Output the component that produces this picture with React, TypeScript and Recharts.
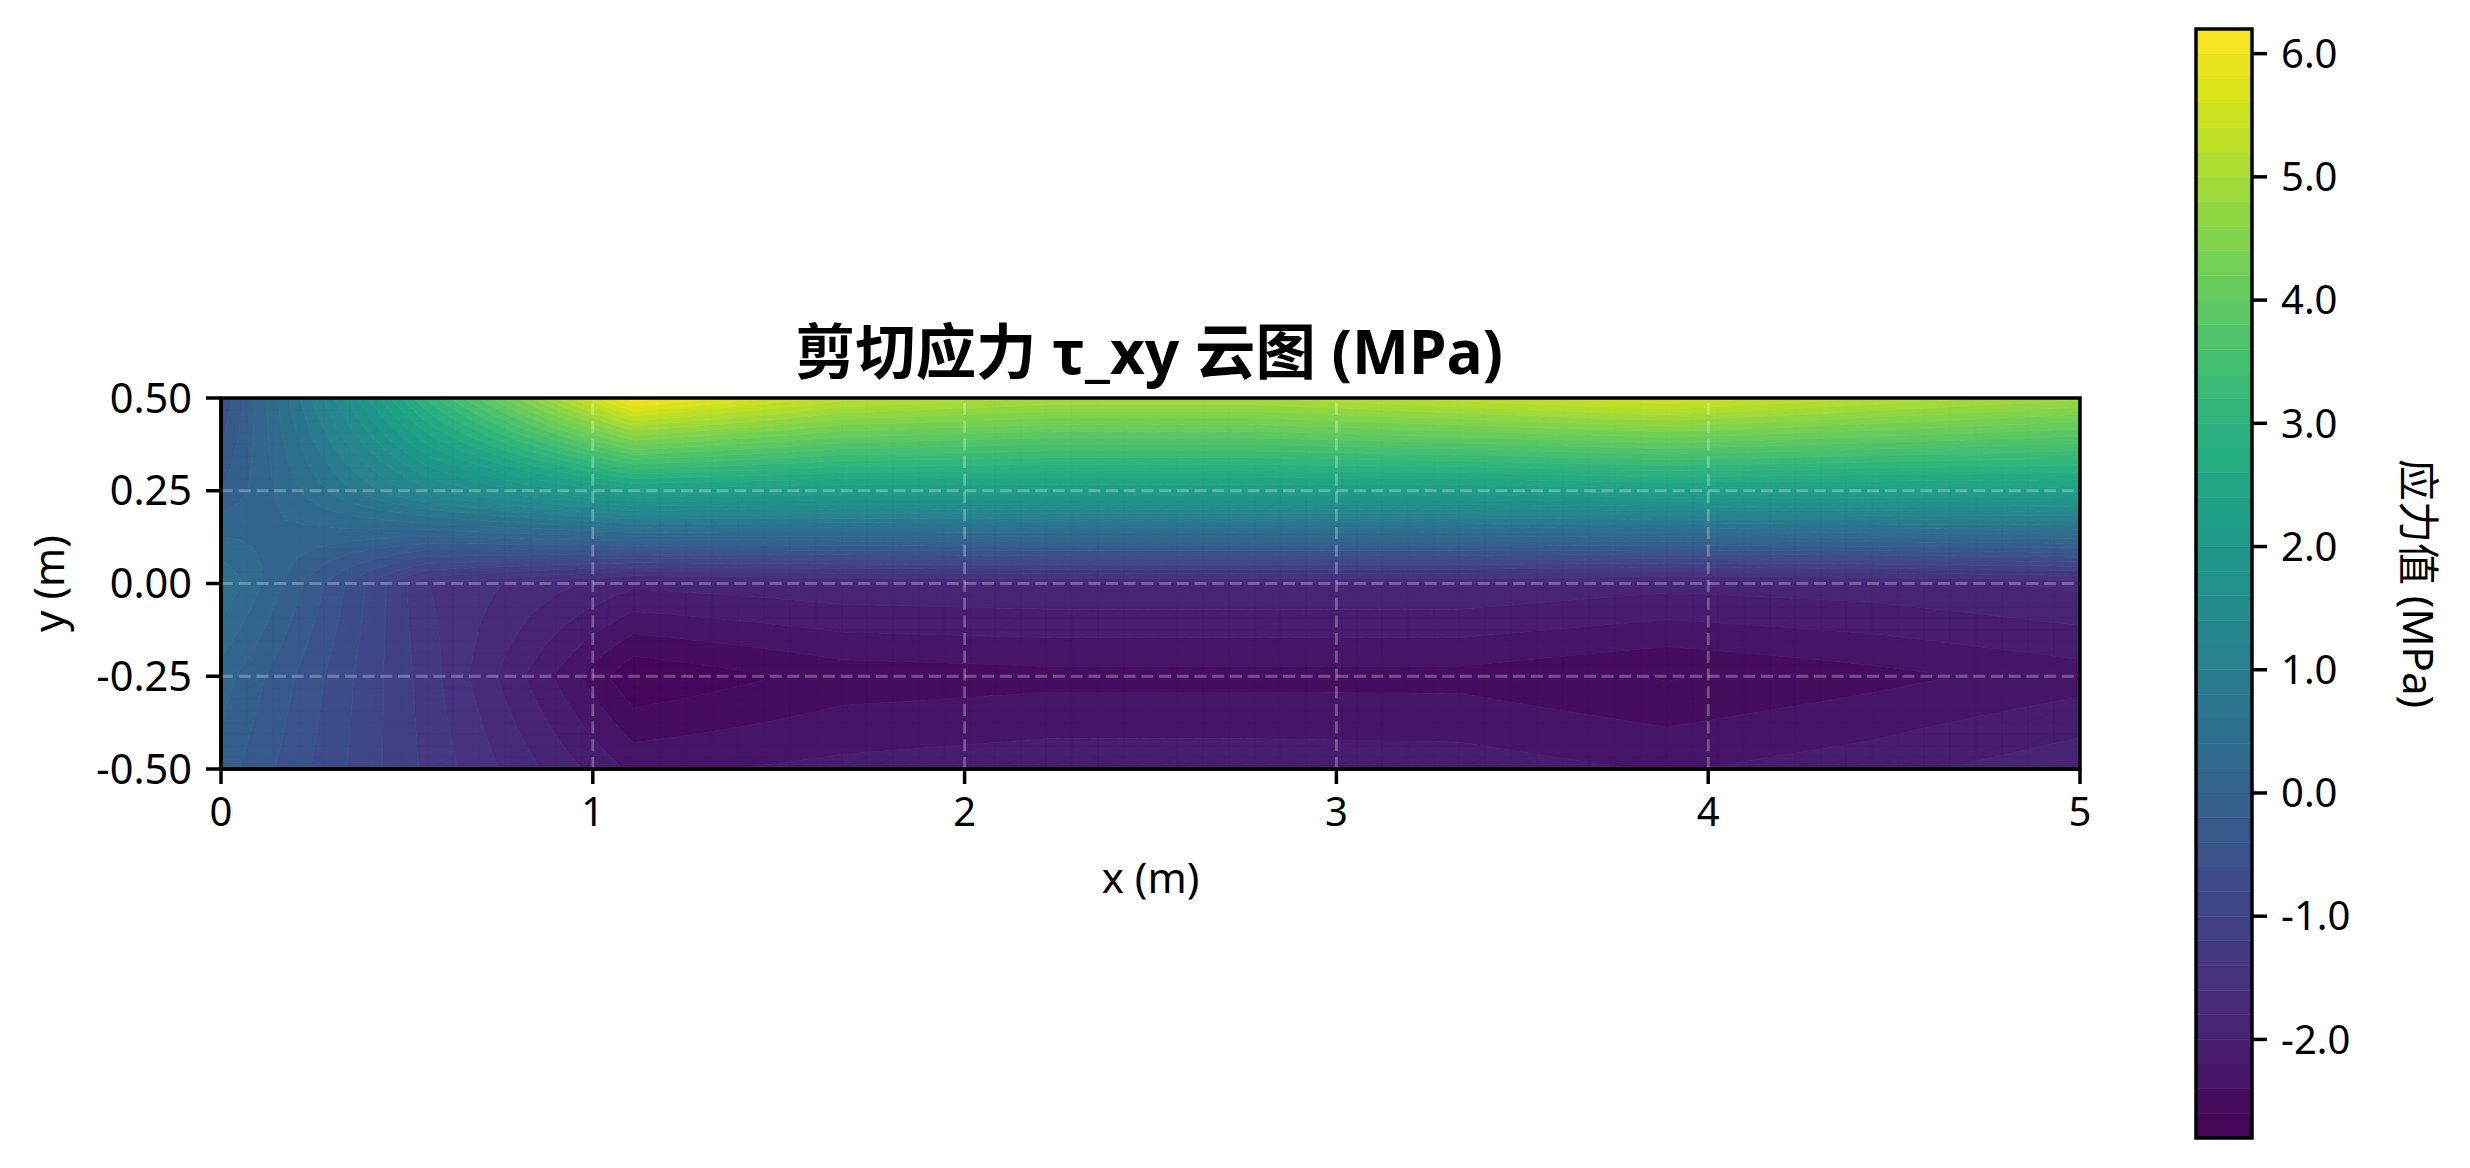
import React from 'react';
import * as Recharts from 'recharts';
import { ComposedChart, XAxis, YAxis, ReferenceLine, ReferenceArea, Scatter } from 'recharts';

const xNodes = [0, 0.556, 1.11, 1.67, 2.22, 2.78, 3.33, 3.89, 4.44, 5];
const yNodes = [-0.5, -0.25, 0, 0.25, 0.5];

// tau_xy at each node, one row per y node, from the bottom up
const rowM050 = [-0.1, -1.25, -2.25, -2.14, -2.07, -2.07, -2.09, -2.22, -2.08, -1.85];
const rowM025 = [0.1, -1.3, -2.78, -2.52, -2.47, -2.47, -2.47, -2.62, -2.47, -2.3];
const rowP000 = [0.6, -1.4, -1.95, -1.85, -1.82, -1.82, -1.82, -1.93, -1.88, -1.75];
const rowP025 = [-0.2, 1.35, 2.3, 2.2, 2.2, 2.2, 2.2, 2.3, 2.3, 2.3];
const rowP050 = [-0.6, 3.05, 6.15, 5.3, 5.0, 5.0, 5.3, 5.6, 5.2, 4.85];
const rows = [rowM050, rowM025, rowP000, rowP025, rowP050];

const levels = [
  -2.8, -2.6, -2.4, -2.2, -2.0, -1.8, -1.6, -1.4, -1.2, -1.0, -0.8, -0.6, -0.4, -0.2, 0, 0.2,
  0.4, 0.6, 0.8, 1.0, 1.2, 1.4, 1.6, 1.8, 2.0, 2.2, 2.4, 2.6, 2.8, 3.0, 3.2, 3.4, 3.6, 3.8,
  4.0, 4.2, 4.4, 4.6, 4.8, 5.0, 5.2, 5.4, 5.6, 5.8, 6.0, 6.2,
];

const xTicks = [0, 1, 2, 3, 4, 5];
const yTicks = [-0.5, -0.25, 0, 0.25, 0.5];
const xGrid = [1, 2, 3, 4];
const yGrid = [-0.25, 0, 0.25];
const barTicks = [-2, -1, 0, 1, 2, 3, 4, 5, 6];

const viridis = [
  '#440154', '#471365', '#482475', '#463480', '#414487', '#3b528b', '#355f8d', '#2f6c8e', '#2a788e', '#25858e',
  '#21918c', '#1e9c89', '#22a884', '#2fb47c', '#44bf70', '#5ec962', '#7ad151', '#9bd93c', '#bddf26', '#dfe318', '#fde725',
];

const FONT = '"Noto Sans", "Noto Sans CJK SC", sans-serif';
const SUB = 8; // contour cells per mesh cell

function bandColor(i: number) {
  const t = ((i + 0.5) / (levels.length - 1)) * (viridis.length - 1);
  const k = Math.min(Math.floor(t), viridis.length - 2);
  const f = t - k;
  const a = viridis[k];
  const b = viridis[k + 1];
  const ch = (p: number) => {
    const u = parseInt(a.slice(p, p + 2), 16);
    const v = parseInt(b.slice(p, p + 2), 16);
    return Math.round(u + (v - u) * f);
  };
  return `rgb(${ch(1)},${ch(3)},${ch(5)})`;
}

type P = [number, number, number];

// keep the part of a polygon on one side of a z level
function clip(poly: P[], level: number, above: boolean) {
  const out: P[] = [];
  for (let i = 0; i < poly.length; i++) {
    const a = poly[i];
    const b = poly[(i + 1) % poly.length];
    const aIn = above ? a[2] >= level : a[2] <= level;
    const bIn = above ? b[2] >= level : b[2] <= level;
    if (aIn) out.push(a);
    if (aIn !== bIn) {
      const f = (level - a[2]) / (b[2] - a[2]);
      out.push([a[0] + (b[0] - a[0]) * f, a[1] + (b[1] - a[1]) * f, level]);
    }
  }
  return out;
}

// bilinear inside each mesh cell, split fine enough that contour lines look straight
function meshTriangles() {
  const tris: P[][] = [];
  for (let j = 0; j < yNodes.length - 1; j++) {
    for (let i = 0; i < xNodes.length - 1; i++) {
      const at = (u: number, v: number): P => {
        const s = u / SUB;
        const t = v / SUB;
        const z =
          rows[j][i] * (1 - s) * (1 - t) +
          rows[j][i + 1] * s * (1 - t) +
          rows[j + 1][i] * (1 - s) * t +
          rows[j + 1][i + 1] * s * t;
        return [xNodes[i] + (xNodes[i + 1] - xNodes[i]) * s, yNodes[j] + (yNodes[j + 1] - yNodes[j]) * t, z];
      };
      for (let v = 0; v < SUB; v++) {
        for (let u = 0; u < SUB; u++) {
          tris.push([at(u, v), at(u + 1, v), at(u + 1, v + 1)], [at(u, v), at(u + 1, v + 1), at(u, v + 1)]);
        }
      }
    }
  }
  return tris;
}

// drawn inside the chart so it goes through the chart's own axes
function ContourBands() {
  const R = Recharts as any;
  const plot = R.usePlotArea ? R.usePlotArea() : null;
  const xScale = R.useXAxisScale ? R.useXAxisScale() : null;
  const yScale = R.useYAxisScale ? R.useYAxisScale() : null;
  if (!plot && !(xScale && yScale)) return null;
  const sx = (v: number) => (xScale ? xScale(v) : plot.x + (v / 5) * plot.width);
  const sy = (v: number) => (yScale ? yScale(v) : plot.y + (0.5 - v) * plot.height);
  const tris = meshTriangles();
  return (
    <g>
      {levels.slice(0, -1).map((lo, i) => {
        const hi = levels[i + 1];
        let d = '';
        for (const t of tris) {
          const poly = clip(clip(t, lo, true), hi, false);
          if (poly.length < 3) continue;
          d += 'M' + poly.map((p) => `${sx(p[0]).toFixed(2)},${sy(p[1]).toFixed(2)}`).join('L') + 'Z';
        }
        const color = bandColor(i);
        return <path key={lo} d={d} fill={color} stroke={color} strokeWidth={0.8} />;
      })}
    </g>
  );
}

const nodeTable = yNodes.flatMap((y) => xNodes.map((x) => ({ x, y })));
const barTable = [
  { x: 0, y: levels[0] },
  { x: 1, y: levels[levels.length - 1] },
];

export default function App() {
  const tick = { fontSize: 40, fontFamily: FONT, fill: '#000' };
  const yTick = { fontSize: 41.5, fontFamily: FONT, fill: '#000' };
  const labelStyle = { fontSize: 42, fontFamily: FONT, fill: '#000' };
  const axisLine = { stroke: '#000', strokeWidth: 3.5 };
  const gridLine = { stroke: '#fff', strokeOpacity: 0.27, strokeWidth: 2.8, strokeDasharray: '12 5.7' };
  return (
    <div style={{ position: 'absolute', left: 0, top: 0, width: 2470, height: 1168, background: '#fff', fontFamily: FONT }}>
      <div style={{ position: 'absolute', left: 0, top: 0 }}>
        <ComposedChart width={2470} height={1168} margin={{ left: 21, right: 390, top: 398, bottom: 269 }}>
          <XAxis
            type="number"
            dataKey="x"
            domain={[0, 5]}
            ticks={xTicks}
            interval={0}
            height={130}
            tick={tick}
            tickSize={15}
            tickMargin={14}
            tickLine={axisLine}
            axisLine={axisLine}
            label={{ value: 'x (m)', position: 'insideBottom', offset: 6, style: labelStyle }}
          />
          <YAxis
            type="number"
            dataKey="y"
            domain={[-0.5, 0.5]}
            ticks={yTicks}
            interval={0}
            width={200}
            tick={yTick}
            tickSize={15}
            tickMargin={14}
            tickLine={axisLine}
            axisLine={axisLine}
            tickFormatter={(v: number) => v.toFixed(2)}
            label={{ value: 'y (m)', angle: -90, position: 'insideLeft', offset: 28, style: { ...labelStyle, textAnchor: 'middle' } }}
          />
          <Scatter data={nodeTable} dataKey="y" shape={() => null} isAnimationActive={false} />
          <ContourBands />
          {xGrid.map((v) => (
            <ReferenceLine key={v} x={v} {...gridLine} />
          ))}
          {yGrid.map((v) => (
            <ReferenceLine key={v} y={v} {...gridLine} />
          ))}
          <ReferenceArea x1={0} x2={5} y1={-0.5} y2={0.5} fill="none" stroke="#000" strokeWidth={3.5} />
          <text x={1149} y={374} textAnchor="middle" fontSize={60.4} fontWeight={700} fontFamily={FONT} fill="#000">
            剪切应力 τ_xy 云图 (MPa)
          </text>
        </ComposedChart>
      </div>
      <div style={{ position: 'absolute', left: 0, top: 0 }}>
        <ComposedChart width={2470} height={1168} margin={{ left: 2196, right: 78, top: 29, bottom: 30 }}>
          <XAxis type="number" dataKey="x" domain={[0, 1]} hide />
          <YAxis
            type="number"
            dataKey="y"
            orientation="right"
            domain={[-2.8, 6.2]}
            ticks={barTicks}
            interval={0}
            width={140}
            tick={tick}
            tickSize={15}
            tickMargin={14}
            tickLine={axisLine}
            axisLine={false}
            tickFormatter={(v: number) => v.toFixed(1)}
            label={{ value: '应力值 (MPa)', angle: 90, position: 'right', offset: 26, style: { ...labelStyle, textAnchor: 'middle' } }}
          />
          <Scatter data={barTable} dataKey="y" shape={() => null} isAnimationActive={false} />
          {levels.slice(0, -1).map((lo, i) => (
            <ReferenceArea key={lo} x1={0} x2={1} y1={lo} y2={levels[i + 1]} fill={bandColor(i)} fillOpacity={1} stroke={bandColor(i)} strokeWidth={0.5} />
          ))}
          <ReferenceArea x1={0} x2={1} y1={-2.8} y2={6.2} fill="none" stroke="#000" strokeWidth={3.5} />
        </ComposedChart>
      </div>
    </div>
  );
}
